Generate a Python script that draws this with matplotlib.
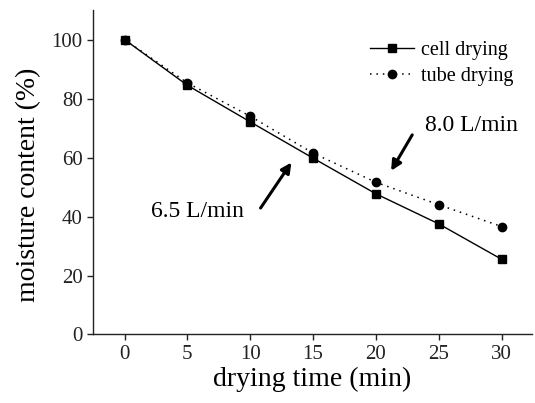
import matplotlib
matplotlib.use("Agg")
import matplotlib.pyplot as plt

time_min = [0, 5, 10, 15, 20, 25, 30]
cell_drying = [100, 84.5, 72.1, 59.8, 47.7, 37.5, 25.5]
tube_drying = [100, 85.3, 74.0, 61.5, 51.6, 44.0, 36.6]
x_ticks = [0, 5, 10, 15, 20, 25, 30]
y_ticks = [0, 20, 40, 60, 80, 100]

plt.rcParams['font.family'] = ['Liberation Serif', 'DejaVu Serif']

fig = plt.figure(figsize=(5.35, 4.03), dpi=100)
ax = fig.add_axes([0.174, 0.17, 0.82, 0.805])

ax.plot(time_min, cell_drying, '-', color='black', lw=1.0, marker='s', ms=5.5,
        label='cell drying')
ax.plot(time_min, tube_drying, color='black', lw=1.1, marker='o', ms=6,
        linestyle=(0, (1, 3.2)), label='tube drying')

ax.set_xlim(-2.5, 32.4)
ax.set_ylim(0, 110)
ax.set_xticks(x_ticks)
ax.set_yticks(y_ticks)
ax.spines['top'].set_visible(False)
ax.spines['right'].set_visible(False)
for s in ['left', 'bottom']:
    ax.spines[s].set_linewidth(1.0)
    ax.spines[s].set_color('#222222')
ax.tick_params(direction='out', length=4.5, width=1, labelsize=15,
               colors='#222222', pad=3)
ax.set_xlabel('drying time (min)', fontsize=20, labelpad=2)
ax.set_ylabel('moisture content (%)', fontsize=20)
ax.yaxis.set_label_coords(-0.118, 0.46)

leg = ax.legend(loc='upper right', bbox_to_anchor=(1.0, 0.96), frameon=False,
                fontsize=14.5, handlelength=2.2, handletextpad=0.35,
                labelspacing=0.35)

ax.text(27.6, 70.9, '8.0 L/min', fontsize=17, ha='center', va='center')
ax.annotate('', xy=(21.1, 54.7), xytext=(23.0, 68.5),
            arrowprops=dict(arrowstyle='-|>,head_length=0.6,head_width=0.3',
                            color='black', lw=2.2))
ax.text(5.84, 41.8, '6.5 L/min', fontsize=17, ha='center', va='center')
ax.annotate('', xy=(13.4, 59.1), xytext=(10.7, 42.1),
            arrowprops=dict(arrowstyle='-|>,head_length=0.6,head_width=0.3',
                            color='black', lw=2.2))

fig.savefig('out.png', dpi=100)
